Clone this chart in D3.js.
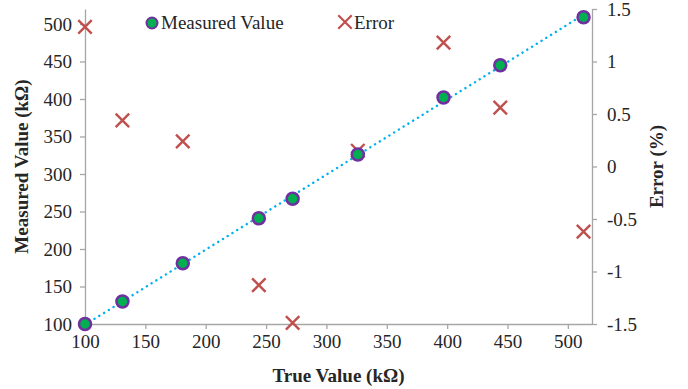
<!DOCTYPE html>
<html>
<head>
<meta charset="utf-8">
<script src="https://cdn.jsdelivr.net/npm/d3@7"></script>
<style>
  body { margin: 0; background: #fff; }
  text { font-family: "Liberation Serif", "Times New Roman", serif; }
</style>
</head>
<body>
<div id="canvas"></div>
<script>
'use strict';
/* Values. */
const trueValues = [100, 131, 181, 244, 272, 326, 397, 444, 513];
const measuredValues = [100, 130, 181, 241, 267, 326, 402, 445, 509];
const errorValues = [1.33, 0.44, 0.24, -1.13, -1.49, 0.15, 1.18, 0.56, -0.62];
const xTicks = [100, 150, 200, 250, 300, 350, 400, 450, 500];
const yTicks = [100, 150, 200, 250, 300, 350, 400, 450, 500];
const errTicks = [-1.5, -1, -0.5, 0, 0.5, 1, 1.5];

const width = 688;
const height = 389;
const margins = {top: 9, right: 96, bottom: 65, left: 85};
const innerW = width - margins.left - margins.right;
const innerH = height - margins.top - margins.bottom;
const axisColor = '#a6a6a6';
const textColor = '#262626';
const fontFamily = '"Liberation Serif", "Times New Roman", serif';
const fontSize = '19px';

const svg = d3.select('#canvas').append('svg')
    .attr('width', width)
    .attr('height', height);
const chart = svg.append('g')
    .attr('transform', `translate(${margins.left},${margins.top})`);

const x = d3.scaleLinear().domain([100, 520]).range([0, innerW]);
const y = d3.scaleLinear().domain([100, 520]).range([innerH, 0]);
const yErr = d3.scaleLinear().domain([-1.5, 1.5]).range([innerH, 0]);

function styleAxis(g) {
  g.attr('font-family', null).attr('font-size', null);
  g.select('.domain').attr('stroke', axisColor).attr('stroke-width', 1.3);
  g.selectAll('.tick line').attr('stroke', axisColor).attr('stroke-width', 1.3);
  g.selectAll('.tick text')
      .attr('fill', textColor)
      .style('font-family', fontFamily)
      .style('font-size', fontSize);
}

chart.append('g')
    .attr('transform', `translate(0,${innerH})`)
    .call(d3.axisBottom(x).tickValues(xTicks).tickSize(5).tickSizeOuter(0)
        .tickPadding(6))
    .call(styleAxis);

chart.append('g')
    .call(d3.axisLeft(y).tickValues(yTicks).tickSize(5).tickSizeOuter(0)
        .tickPadding(8))
    .call(styleAxis);

chart.append('g')
    .attr('transform', `translate(${innerW},0)`)
    .call(d3.axisRight(yErr).tickValues(errTicks).tickSize(5).tickSizeOuter(0)
        .tickPadding(10).tickFormat((d) => String(d)))
    .call(styleAxis);

/* Linear trendline of measured vs. true values. */
const n = trueValues.length;
const mx = d3.mean(trueValues);
const my = d3.mean(measuredValues);
let sxy = 0;
let sxx = 0;
trueValues.forEach((t, i) => {
  sxy += (t - mx) * (measuredValues[i] - my);
  sxx += (t - mx) * (t - mx);
});
const slope = sxy / sxx;
const intercept = my - slope * mx;
const xExtent = d3.extent(trueValues);
chart.append('line')
    .attr('x1', x(xExtent[0]))
    .attr('y1', y(slope * xExtent[0] + intercept))
    .attr('x2', x(xExtent[1]))
    .attr('y2', y(slope * xExtent[1] + intercept))
    .attr('stroke', '#00b0f0')
    .attr('stroke-width', 2.4)
    .attr('stroke-linecap', 'round')
    .attr('stroke-dasharray', '0.1 5.5');

/* Error markers (right axis). */
const cross = d3.symbol().type(d3.symbolX).size(120);
chart.append('g').selectAll('path')
    .data(d3.range(n))
    .join('path')
    .attr('d', cross)
    .attr('transform', (i) => `translate(${x(trueValues[i])},${yErr(errorValues[i])})`)
    .attr('fill', 'none')
    .attr('stroke', '#c0504d')
    .attr('stroke-width', 2.4);

/* Measured value markers (left axis). */
chart.append('g').selectAll('circle')
    .data(d3.range(n))
    .join('circle')
    .attr('cx', (i) => x(trueValues[i]))
    .attr('cy', (i) => y(measuredValues[i]))
    .attr('r', 6)
    .attr('fill', '#00b050')
    .attr('stroke', '#7030a0')
    .attr('stroke-width', 2.5);

/* Legend. */
const legend = svg.append('g');
legend.append('circle')
    .attr('cx', 152).attr('cy', 23).attr('r', 5.5)
    .attr('fill', '#00b050').attr('stroke', '#7030a0').attr('stroke-width', 2);
legend.append('text')
    .attr('x', 161).attr('y', 29)
    .attr('fill', textColor).style('font-size', fontSize)
    .text('Measured Value');
legend.append('path')
    .attr('d', cross)
    .attr('transform', 'translate(345,22)')
    .attr('fill', 'none').attr('stroke', '#c0504d').attr('stroke-width', 2.2);
legend.append('text')
    .attr('x', 354).attr('y', 29)
    .attr('fill', textColor).style('font-size', fontSize)
    .text('Error');

/* Axis titles. */
svg.append('text')
    .attr('x', margins.left + innerW / 2)
    .attr('y', 382)
    .attr('text-anchor', 'middle')
    .attr('fill', textColor)
    .style('font-size', fontSize).style('font-weight', 'bold')
    .text('True Value (kΩ)');
svg.append('text')
    .attr('transform', `translate(28,${margins.top + innerH / 2}) rotate(-90)`)
    .attr('text-anchor', 'middle')
    .attr('fill', textColor)
    .style('font-size', fontSize).style('font-weight', 'bold')
    .text('Measured Value (kΩ)');
svg.append('text')
    .attr('transform', `translate(663,${margins.top + innerH / 2}) rotate(-90)`)
    .attr('text-anchor', 'middle')
    .attr('fill', textColor)
    .style('font-size', fontSize).style('font-weight', 'bold')
    .text('Error (%)');
</script>
</body>
</html>
